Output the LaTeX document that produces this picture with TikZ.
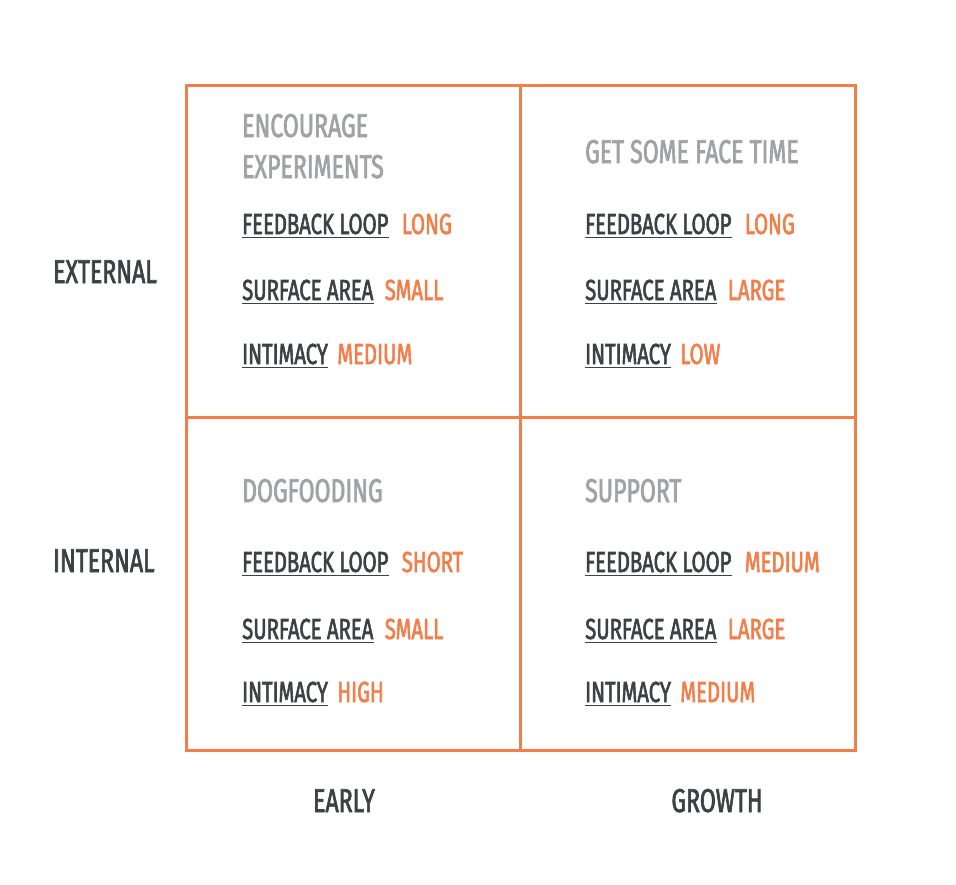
\documentclass[tikz,border=0pt]{standalone}
\usepackage{fontspec}
\setmainfont{Fira Sans}[FakeStretch=0.7, FakeBold=2]
\usetikzlibrary{positioning}

\definecolor{gridorange}{HTML}{F47E4A}
\definecolor{labelgrey}{HTML}{3D4145}
\definecolor{titlegrey}{HTML}{A0A2A4}

\tikzset{
  axis/.style={anchor=base, inner sep=0pt, text=labelgrey, font=\fontsize{33}{36}\selectfont},
  title/.style={anchor=base west, inner sep=0pt, text=titlegrey, align=left, font=\fontsize{33}{41}\selectfont},
  key/.style={anchor=base west, inner sep=0pt, text=labelgrey, font=\fontsize{29}{34}\selectfont},
  val/.style={anchor=base west, inner sep=0pt, text=gridorange, font=\fontsize{29}{34}\selectfont},
  uline/.style={draw=labelgrey, line width=1.5pt},
}

\begin{document}
\begin{tikzpicture}[x=1pt,y=-1pt]
    \useasboundingbox (0,0) rectangle (956,884);

    % the grid
    \draw[gridorange, line width=3pt] (186,85) rectangle (855,750);
    \draw[gridorange, line width=3pt] (520,85) -- (520,750);
    \draw[gridorange, line width=3pt] (186,417) -- (855,417);

    % axes
    \node[axis, anchor=base west] (ext) at (53,283) {EXTERNAL};
    \node[axis, anchor=base west] (int) at (53,572) {INTERNAL};
    \node[axis] (early) at (344,812) {EARLY};
    \node[axis] (growth) at (717,812) {GROWTH};

    % early / external
    \node[title] (encourage) at (242,178) {ENCOURAGE\\EXPERIMENTS};
    \node[key] (fbA) at (242,234) {FEEDBACK LOOP};
    \node[val, right=13pt of fbA.base east, anchor=base west] (fbAv) {LONG};
    \node[key] (saA) at (242,300) {SURFACE AREA};
    \node[val, right=11pt of saA.base east, anchor=base west] (saAv) {SMALL};
    \node[key] (imA) at (242,364) {INTIMACY};
    \node[val, right=9pt of imA.base east, anchor=base west] (imAv) {MEDIUM};

    % growth / external
    \node[title] (facetime) at (585,163) {GET SOME FACE TIME};
    \node[key] (fbB) at (585,234) {FEEDBACK LOOP};
    \node[val, right=13pt of fbB.base east, anchor=base west] (fbBv) {LONG};
    \node[key] (saB) at (585,300) {SURFACE AREA};
    \node[val, right=11pt of saB.base east, anchor=base west] (saBv) {LARGE};
    \node[key] (imB) at (585,364) {INTIMACY};
    \node[val, right=9pt of imB.base east, anchor=base west] (imBv) {LOW};

    % early / internal
    \node[title] (dogfood) at (242,502) {DOGFOODING};
    \node[key] (fbC) at (242,572) {FEEDBACK LOOP};
    \node[val, right=13pt of fbC.base east, anchor=base west] (fbCv) {SHORT};
    \node[key] (saC) at (242,639) {SURFACE AREA};
    \node[val, right=11pt of saC.base east, anchor=base west] (saCv) {SMALL};
    \node[key] (imC) at (242,702) {INTIMACY};
    \node[val, right=9pt of imC.base east, anchor=base west] (imCv) {HIGH};

    % growth / internal
    \node[title] (support) at (585,502) {SUPPORT};
    \node[key] (fbD) at (585,572) {FEEDBACK LOOP};
    \node[val, right=13pt of fbD.base east, anchor=base west] (fbDv) {MEDIUM};
    \node[key] (saD) at (585,639) {SURFACE AREA};
    \node[val, right=11pt of saD.base east, anchor=base west] (saDv) {LARGE};
    \node[key] (imD) at (585,702) {INTIMACY};
    \node[val, right=9pt of imD.base east, anchor=base west] (imDv) {MEDIUM};

    % underlines
    \foreach \k in {fbA,saA,imA,fbB,saB,imB,fbC,saC,imC,fbD,saD,imD}
        \draw[uline] ([yshift=-3.5pt]\k.base west) -- ([yshift=-3.5pt]\k.base east);

\end{tikzpicture}
\end{document}
